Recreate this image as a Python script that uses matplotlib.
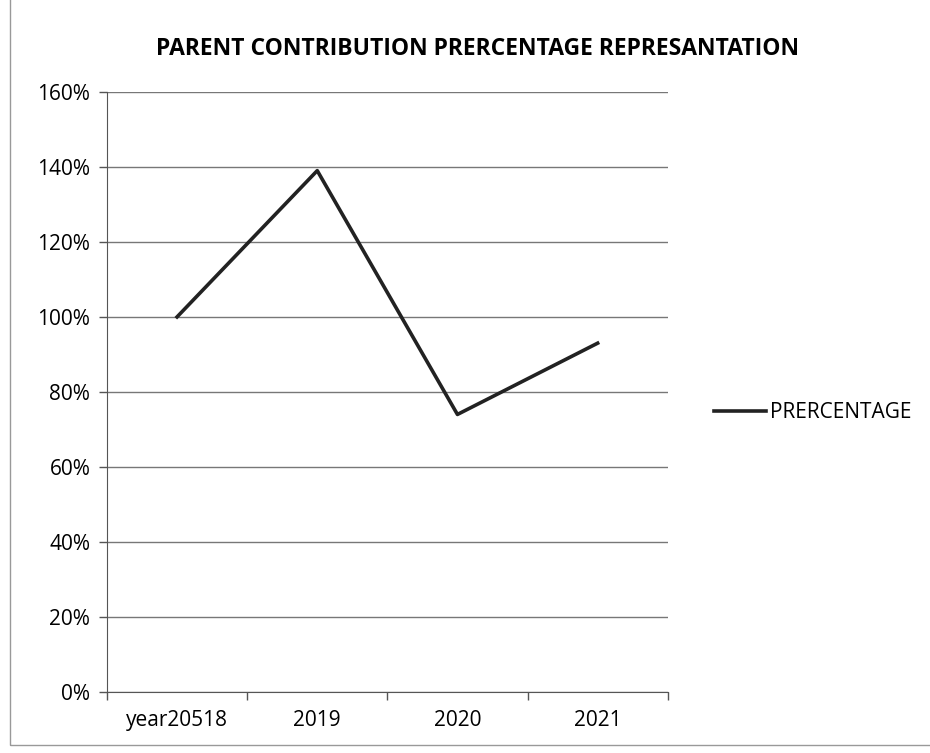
import matplotlib.pyplot as plt
from matplotlib.ticker import FixedLocator, PercentFormatter
from matplotlib.patches import Rectangle

years = ['year20518', '2019', '2020', '2021']
percentage = [100, 139, 74, 93]
y_ticks = [0, 20, 40, 60, 80, 100, 120, 140, 160]

plt.rcParams['font.family'] = ['Open Sans', 'DejaVu Sans']

fig = plt.figure(figsize=(9.3, 7.53), dpi=100)
ax = fig.add_axes([0.115, 0.081, 0.603, 0.797])

x = list(range(len(years)))
ax.plot(x, percentage, color='#222222', linewidth=2.6, label='PRERCENTAGE')

ax.set_xlim(-0.5, len(years) - 0.5)
ax.set_ylim(0, 160)
ax.set_yticks(y_ticks)
ax.yaxis.set_major_formatter(PercentFormatter(decimals=0))
ax.grid(axis='y', color='#777777', linewidth=1.0)
ax.set_axisbelow(True)

ax.set_xticks(x)
ax.set_xticklabels(years)
ax.xaxis.set_minor_locator(FixedLocator([i - 0.5 for i in range(len(years) + 1)]))
ax.tick_params(axis='x', which='major', length=0, pad=13, labelsize=15)
ax.tick_params(axis='x', which='minor', length=6, width=1, color='#555555', direction='out')
ax.tick_params(axis='y', length=6, width=1, color='#555555', labelsize=15, pad=6)

for side in ['top', 'right']:
    ax.spines[side].set_visible(False)
ax.spines['left'].set_color('#555555')
ax.spines['bottom'].set_color('#555555')

fig.text(0.513, 0.935, 'PARENT CONTRIBUTION PRERCENTAGE REPRESANTATION',
         ha='center', va='center', fontsize=16.5, fontweight='bold')

ax.legend(loc='center left', bbox_to_anchor=(0.748, 0.452), bbox_transform=fig.transFigure,
          frameon=False, fontsize=15, handlelength=2.5, handletextpad=0.15)

fig.patches.append(Rectangle((0.011, 0.01), 0.99, 1.0, transform=fig.transFigure,
                             fill=False, edgecolor='#999999', linewidth=1.0))

fig.savefig('out.png', dpi=100)
